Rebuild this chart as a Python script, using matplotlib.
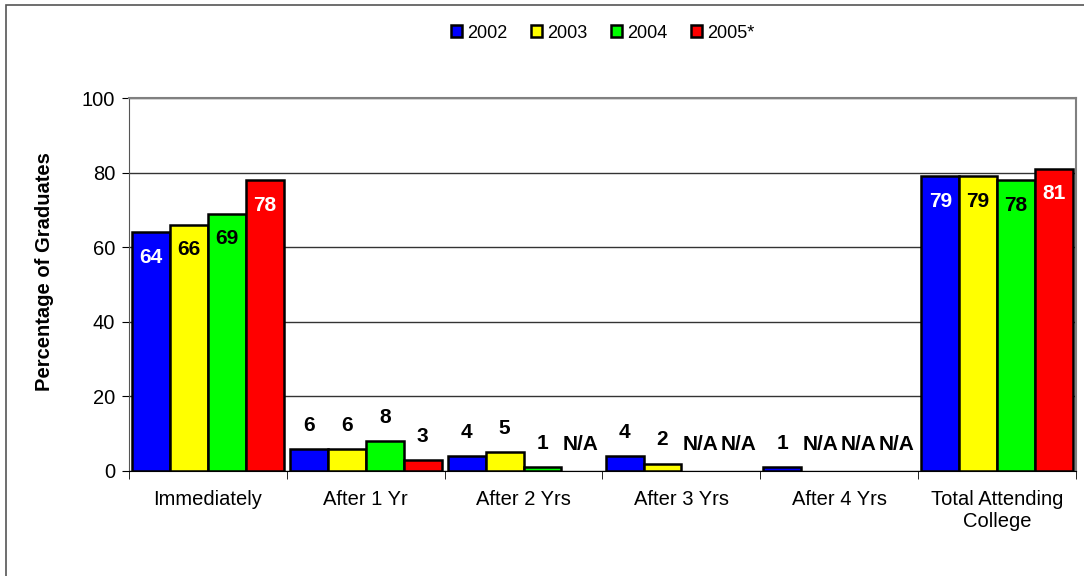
import numpy as np
import matplotlib
matplotlib.use("Agg")
import matplotlib.pyplot as plt
from matplotlib.patches import Rectangle

plt.rcParams['font.family'] = ['Liberation Sans', 'DejaVu Sans']

categories = ["Immediately", "After 1 Yr", "After 2 Yrs", "After 3 Yrs",
              "After 4 Yrs", "Total Attending\nCollege"]
years = ["2002", "2003", "2004", "2005*"]
# None = N/A
v2002 = [64, 6, 4, 4, 1, 79]
v2003 = [66, 6, 5, 2, None, 79]
v2004 = [69, 8, 1, None, None, 78]
v2005 = [78, 3, None, None, None, 81]
series = [v2002, v2003, v2004, v2005]
colors = ["#0000FF", "#FFFF00", "#00FF00", "#FF0000"]
inside_text = ["white", "black", "black", "white"]
inside_min = 20  # values above this get their label inside the bar

fig = plt.figure(figsize=(10.84, 5.76), dpi=100)
ax = fig.add_axes([129 / 1084, 1 - 471 / 576, (1076 - 129) / 1084, (471 - 98) / 576])

x = np.arange(len(categories))
w = 0.24
for k, vals in enumerate(series):
    pos = x + (k - 1.5) * w
    keep = [i for i, v in enumerate(vals) if v is not None]
    ax.bar(pos[keep], [vals[i] for i in keep], width=w, color=colors[k],
           edgecolor="black", linewidth=1.8, label=years[k], zorder=3)
    for xp, v in zip(pos, vals):
        if v is None:
            ax.annotate("N/A", (xp, 0), xytext=(0, 19), textcoords="offset points",
                        ha="center", va="center", fontsize=15, fontweight="bold")
        elif v > inside_min:
            ax.annotate(str(v), (xp, v), xytext=(0, -18), textcoords="offset points",
                        ha="center", va="center", fontsize=15, fontweight="bold",
                        color=inside_text[k], zorder=4)
        else:
            ax.annotate(str(v), (xp, v), xytext=(0, 17), textcoords="offset points",
                        ha="center", va="center", fontsize=15, fontweight="bold")

ax.set_xlim(-0.5, len(categories) - 0.5)
ax.set_ylim(0, 100)
ax.set_yticks(range(0, 101, 20))
ax.tick_params(axis="y", labelsize=14.5, length=5, direction="out", pad=5)
ax.set_xticks(x)
ax.set_xticklabels(categories, fontsize=14.5, linespacing=1.15)
ax.tick_params(axis="x", which="major", length=0, pad=14)
ax.set_xticks(np.arange(-0.5, len(categories), 1), minor=True)
ax.tick_params(axis="x", which="minor", length=6, direction="out")
ax.yaxis.grid(True, color="#333333", linewidth=1, zorder=0)
ax.set_axisbelow(True)

for s in ["top", "right"]:
    ax.spines[s].set_color("#808080")
    ax.spines[s].set_linewidth(1.5)
ax.spines["left"].set_color("#555555")
ax.spines["bottom"].set_color("black")

ax.set_ylabel("Percentage of Graduates", fontsize=14.5, fontweight="bold")
ax.yaxis.set_label_coords((54 - 129) / 947, 0.535)

fig.legend(loc="center", bbox_to_anchor=(603 / 1084, 1 - 33 / 576), ncol=4,
           frameon=False, fontsize=13, handlelength=0.6, handleheight=0.6,
           handletextpad=0.3, columnspacing=1.3, borderpad=0)

# outer chart frame (right and bottom fall outside the image)
fig.patches.append(Rectangle((6 / 1084, -0.1), 1.2, 1 - 5 / 576 + 0.1,
                             transform=fig.transFigure, fill=False,
                             edgecolor="#555555", linewidth=1.2))

fig.savefig("out.png", dpi=100)
